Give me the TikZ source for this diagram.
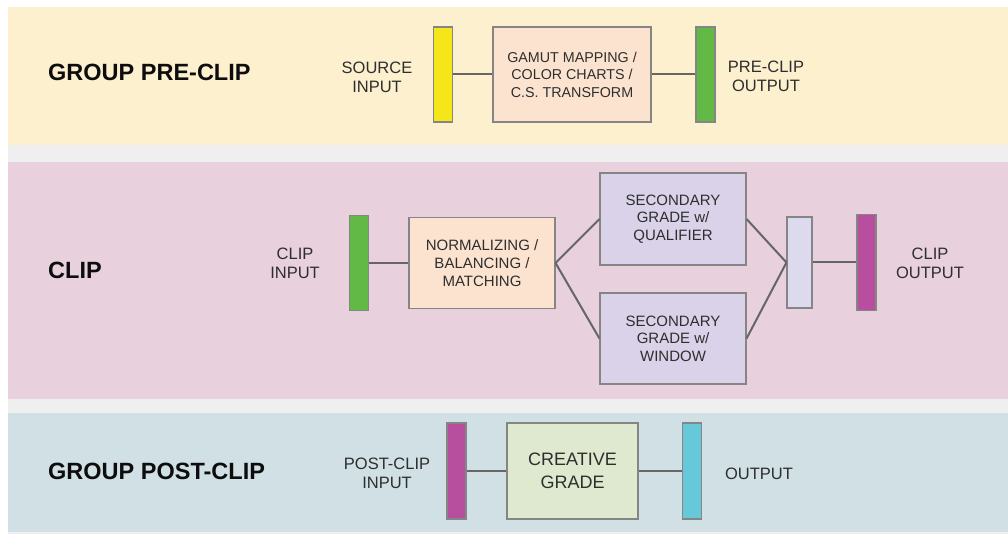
\documentclass[tikz,border=0pt]{standalone}
\usepackage{fontspec}
\setmainfont{Liberation Sans}
\definecolor{bgray}{HTML}{EFEFEF}
\definecolor{bandA}{HTML}{FDF0CF}
\definecolor{bandB}{HTML}{E8D0DC}
\definecolor{bandC}{HTML}{D0E0E4}
\definecolor{peach}{HTML}{FBE3CF}
\definecolor{lav}{HTML}{D9D2E9}
\definecolor{lavlt}{HTML}{DEDAEE}
\definecolor{lgreen}{HTML}{DEE9CF}
\definecolor{ybar}{HTML}{F5E61A}
\definecolor{gbar}{HTML}{62B946}
\definecolor{mbar}{HTML}{B84F9E}
\definecolor{cbar}{HTML}{67C8D9}
\definecolor{txt}{HTML}{2E2E2E}
\definecolor{edge}{HTML}{858585}
\definecolor{wire}{HTML}{666666}
\tikzset{
  bar/.style={draw=edge, line width=1.1pt, minimum width=19, minimum height=95, inner sep=0},
  procbox/.style={draw=edge, line width=1.1pt, align=center, inner sep=0, text=txt},
  lbl/.style={align=center, text=txt, inner sep=0, font=\fontsize{16.5}{19}\selectfont},
  title/.style={anchor=west, inner sep=0, text=black!95, font=\fontsize{23.5}{26}\selectfont\bfseries},
  conn/.style={draw=wire, line width=2pt}
}
\begin{document}
\begin{tikzpicture}[x=1pt,y=-1pt]
\useasboundingbox (0,0) rectangle (1008,534);
\fill[white] (0,0) rectangle (1008,534);
\fill[bgray] (8,7) rectangle (1008,534);
\fill[bandA] (8,7) rectangle (1008,145);
\fill[bandB] (8,162) rectangle (1008,399);
\fill[bandC] (8,413) rectangle (1008,532);

% band 1
\node[title] (t1) at (48,72) {GROUP PRE-CLIP};
\node[lbl] (srclbl) at (377,77) {SOURCE\\INPUT};
\node[bar, fill=ybar] (src) at (443,74.5) {};
\node[procbox, fill=peach, minimum width=158, minimum height=95,
      font=\fontsize{14.3}{17.5}\selectfont] (gamut) at (572,74.5) {GAMUT MAPPING /\\COLOR CHARTS /\\C.S. TRANSFORM};
\node[bar, fill=gbar] (preout) at (705.5,74.5) {};
\node[lbl] (preoutlbl) at (766,76) {PRE-CLIP\\OUTPUT};
\draw[conn] (src.east) -- (gamut.west);
\draw[conn] (gamut.east) -- (preout.west);

% band 2
\node[title] (t2) at (48,270) {CLIP};
\node[lbl] (cinlbl) at (295,263) {CLIP\\INPUT};
\node[bar, fill=gbar] (cin) at (359,263) {};
\node[procbox, fill=peach, minimum width=146, minimum height=91,
      font=\fontsize{15}{18}\selectfont] (norm) at (482,263) {NORMALIZING /\\BALANCING /\\MATCHING};
\node[procbox, fill=lav, minimum width=146, minimum height=92,
      font=\fontsize{15}{17.5}\selectfont] (qual) at (673,219) {SECONDARY\\GRADE w/\\QUALIFIER};
\node[procbox, fill=lav, minimum width=146, minimum height=91,
      font=\fontsize{15}{17.5}\selectfont] (win) at (673,338.5) {SECONDARY\\GRADE w/\\WINDOW};
\node[procbox, fill=lavlt, minimum width=25, minimum height=91] (comb) at (799.5,262.5) {};
\node[bar, fill=mbar, minimum height=96] (cout) at (866.5,262.5) {};
\node[lbl] (coutlbl) at (930,263) {CLIP\\OUTPUT};
\draw[conn] (cin.east) -- (norm.west);
\draw[conn] (norm.east) -- (qual.west);
\draw[conn] (norm.east) -- (win.west);
\draw[conn] (qual.east) -- (comb.west);
\draw[conn] (win.east) -- (comb.west);
\draw[conn] (comb.east) -- (cout.west);

% band 3
\node[title] (t3) at (48,471) {GROUP POST-CLIP};
\node[lbl] (pinlbl) at (387,473) {POST-CLIP\\INPUT};
\node[bar, fill=mbar, minimum height=96] (pin) at (456.5,471) {};
\node[procbox, fill=lgreen, minimum width=131, minimum height=96,
      font=\fontsize{18}{23}\selectfont] (crea) at (572.5,471) {CREATIVE\\GRADE};
\node[bar, fill=cbar, minimum height=96] (out) at (692,471) {};
\node[lbl] (outlbl) at (759,474) {OUTPUT};
\draw[conn] (pin.east) -- (crea.west);
\draw[conn] (crea.east) -- (out.west);
\end{tikzpicture}
\end{document}
